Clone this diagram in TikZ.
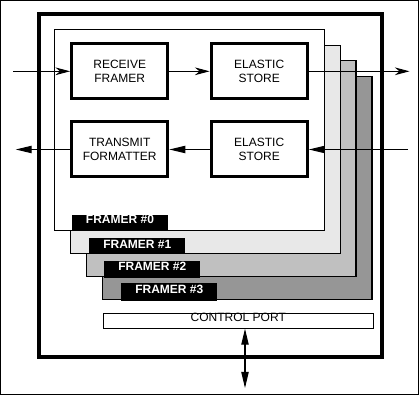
\documentclass[tikz,border=0pt]{standalone}
\usepackage{fontspec}
\setmainfont{Liberation Sans}
\usetikzlibrary{arrows.meta}
\definecolor{layerA}{HTML}{E8E8E8}
\definecolor{layerB}{HTML}{C0C0C0}
\definecolor{layerC}{HTML}{969696}
\begin{document}
\begin{tikzpicture}[x=0.75pt,y=-0.75pt,
  thinline/.style={line width=0.75pt},
  txt/.style={font=\fontsize{9}{10.7}\selectfont},
  blockbox/.style={draw, fill=white, line width=2.25pt, minimum width=72.2pt, minimum height=41.25pt, inner sep=0pt, align=center, txt},
  flabel/.style={fill=black, text=white, font=\fontsize{9}{10.7}\selectfont\bfseries, inner sep=0pt, minimum width=72pt, anchor=north west},
  inarrow/.style={thinline, -{Stealth[length=11pt,width=5.8pt,inset=3.5pt]}},
  outarrow/.style={thinline, -{Triangle[length=12pt,width=5.5pt]}},
  ]
\useasboundingbox (0,0) rectangle (419,395);
\draw[thinline] (0.5,0.5) rectangle (418.5,394.5);
\draw[line width=3pt] (39.5,14.5) rectangle (382.5,357.5);
% framer layers
\draw[thinline, fill=layerC] (102.8,76.8) rectangle (372,300);
\draw[thinline, fill=layerB] (86.8,61) rectangle (356,276.5);
\draw[thinline, fill=layerA] (70.8,45.5) rectangle (340,254);
\draw[thinline, fill=white] (54.8,29.5) rectangle (324,231);
% framer labels
\node[flabel, text height=6.4pt, text depth=5.6pt] (lab0) at (71.7,215) {FRAMER \#0};
\node[flabel, text height=7.9pt, text depth=4.5pt] (lab1) at (89,237.7) {FRAMER \#1};
\node[flabel, text height=7.0pt, text depth=5.5pt] (lab2) at (104,260.7) {FRAMER \#2};
\node[flabel, text height=7.7pt, text depth=5.3pt] (lab3) at (121,283) {FRAMER \#3};
% control port
\node[draw, thinline, inner sep=0pt, minimum width=202.5pt, text height=6.5pt, text depth=4.7pt, anchor=north west, txt] (ctrl) at (102.8,312.8) {CONTROL PORT};
\coordinate (cpout) at (245,388);
\draw[thinline, {Triangle[length=12pt,width=5.5pt]}-{Triangle[length=12pt,width=5.5pt]}] (ctrl.south -| cpout) -- (cpout);
% blocks
\node[blockbox] (rf) at (119.7,71.3) {RECEIVE\\FRAMER};
\node[blockbox] (es1) at (259.2,71.3) {ELASTIC\\STORE};
\node[blockbox] (tf) at (119.7,149.5) {TRANSMIT\\FORMATTER};
\node[blockbox] (es2) at (259.2,149.5) {ELASTIC\\STORE};
% receive path
\coordinate (rxin) at (13.3,71.3);
\coordinate (rxout) at (409.5,71.3);
\draw[inarrow] (rxin) -- (rf.west);
\draw[inarrow] (rf.east) -- (es1.west);
\draw[inarrow] (es1.east) -- (rxout);
% transmit path
\coordinate (txin) at (408,149.5);
\coordinate (txout) at (15.7,149.5);
\draw[outarrow] (txin) -- (es2.east);
\draw[outarrow] (es2.west) -- (tf.east);
\draw[outarrow] (tf.west) -- (txout);
\end{tikzpicture}
\end{document}
